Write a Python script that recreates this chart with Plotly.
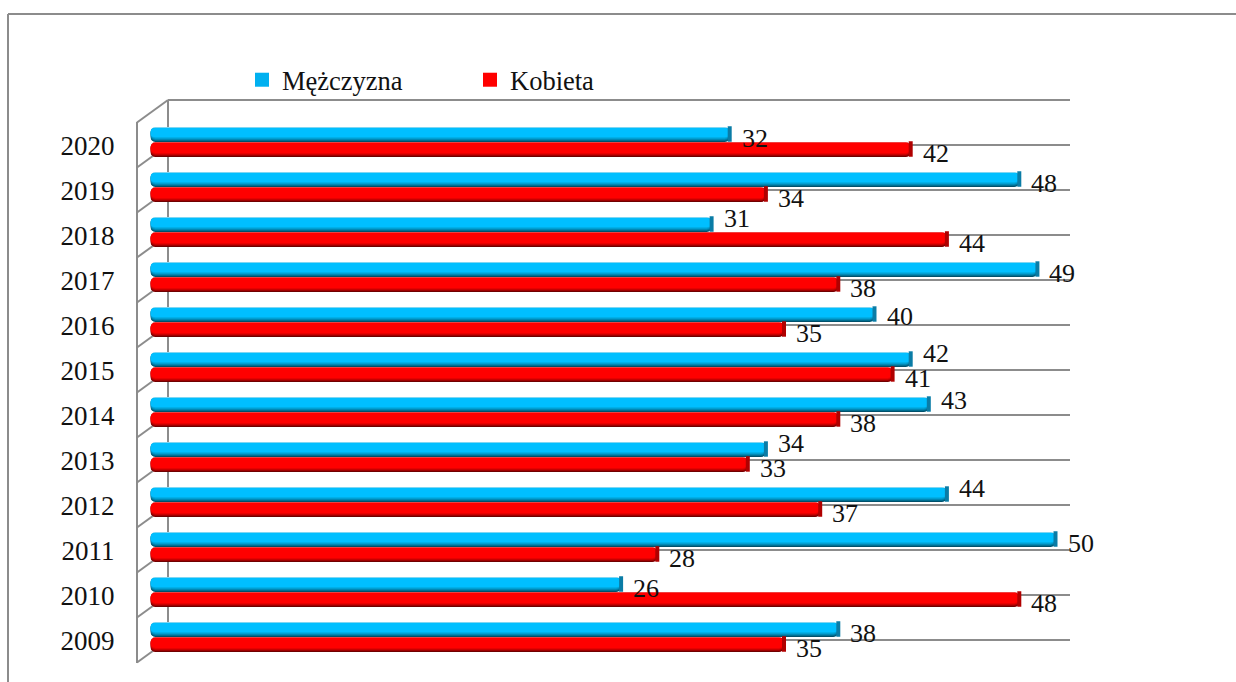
import plotly.graph_objects as go

years = [2009, 2010, 2011, 2012, 2013, 2014, 2015, 2016, 2017, 2018, 2019, 2020]
men = [38, 26, 50, 44, 34, 43, 42, 40, 49, 31, 48, 32]
women = [35, 48, 28, 37, 33, 38, 41, 35, 38, 44, 34, 42]
series_names = ["Mężczyzna", "Kobieta"]

W, H = 1236, 682
FONT = "Liberation Serif"
GREY = "#8c8c8c"
PX_PER_UNIT = 18.1
CAT_PX = 45.0


def px_x(p):
    return p / W


def px_y(p):
    return 1 - p / H


# (top px, bottom px, colour) inside a 15px bar, painted in order
blue_layers = [(0, 15, "#7fd6f2"), (1, 15, "#00506b"), (1, 14, "#006f92"), (1, 13, "#0088b4"),
               (1, 12, "#009fd2"), (1, 11, "#00b0e8"), (1, 10, "#00bfff")]
red_layers = [(0, 15, "#f04040"), (1, 15, "#700000"), (1, 14, "#a00000"), (1, 13, "#c80000"),
              (1, 12, "#e80000"), (1, 11, "#ff0000")]
# Upward nudges (px) of men's labels that the reference lifts off the bars below
men_label_lift = {2018: 10, 2015: 10, 2014: 8, 2013: 10, 2012: 10, 2016: 2}

fig = go.Figure()

# Grid subplot (the back wall)
fig.add_trace(go.Scatter(x=[None], y=[None], xaxis="x", yaxis="y", showlegend=False, hoverinfo="skip"))


def add_series(values, layers, top_units, cap, cap_y):
    for top, bottom, color in layers:
        fig.add_trace(go.Bar(
            x=values, base=[0] * len(values), y=years, orientation="h", xaxis="x2", yaxis="y2",
            width=(bottom - top) / CAT_PX, offset=top_units - bottom / CAT_PX,
            marker=dict(color=color, line_width=0, cornerradius=5),
            showlegend=False, hoverinfo="skip",
        ))
    fig.add_trace(go.Scatter(
        x=values, y=[v + cap_y for v in years], mode="markers", xaxis="x2", yaxis="y2",
        marker=dict(symbol="line-ns", size=11, line=dict(color=cap, width=4)),
        showlegend=False, hoverinfo="skip",
    ))


add_series(men, blue_layers, 1 / 3, "#0a7ca6", 1 / 6 + 0.5 / CAT_PX)
add_series(women, red_layers, 0, "#b00000", -1 / 6 + 0.5 / CAT_PX)

for name, color in zip(series_names, ["#00b0f0", "#ff0000"]):
    fig.add_trace(go.Scatter(
        x=[None], y=[None], mode="markers", name=name, xaxis="x2", yaxis="y2",
        marker=dict(symbol="square", size=14, color=color),
    ))

annotations = []
for vals, off in ((men, 1 / 6), (women, -1 / 6)):
    for yr, v in zip(years, vals):
        lift = men_label_lift.get(yr, 0) if off > 0 else 0
        annotations.append(dict(
            x=v, y=yr + off, xref="x2", yref="y2", text=str(v), showarrow=False,
            xanchor="left", yanchor="middle", xshift=10, yshift=-4 + lift,
            font=dict(family=FONT, size=26, color="#111111"),
        ))

shapes = [
    dict(type="line", xref="paper", yref="paper", x0=px_x(8), x1=px_x(8), y0=px_y(14), y1=0, line=dict(color=GREY, width=2)),
    dict(type="line", xref="paper", yref="paper", x0=px_x(8), x1=1, y0=px_y(14), y1=px_y(14), line=dict(color=GREY, width=2)),
    dict(type="line", xref="paper", yref="paper", x0=px_x(137), x1=px_x(137), y0=px_y(122), y1=px_y(663), line=dict(color=GREY, width=2), layer="below"),
    dict(type="line", xref="paper", yref="paper", x0=px_x(168), x1=px_x(168), y0=px_y(100), y1=px_y(640), line=dict(color=GREY, width=2), layer="below"),
]
for k in range(13):
    gy = 640 - 45 * k
    shapes.append(dict(type="line", xref="paper", yref="paper", x0=px_x(137), x1=px_x(168),
                       y0=px_y(gy + 22.5), y1=px_y(gy), line=dict(color=GREY, width=2), layer="below"))

fig.update_layout(
    width=W, height=H, margin=dict(l=0, r=0, t=0, b=0), autosize=False,
    paper_bgcolor="white", plot_bgcolor="rgba(0,0,0,0)",
    barmode="overlay", hovermode=False,
    font=dict(family=FONT, size=26, color="#111111"),
    xaxis=dict(domain=[px_x(168), px_x(1070)], range=[0, 1], showgrid=False, zeroline=False, showticklabels=False, ticks=""),
    yaxis=dict(domain=[px_y(645), px_y(95)], range=[-5 / 45, 12 + 5 / 45], tick0=0, dtick=1, showgrid=True,
               gridcolor=GREY, gridwidth=2, zeroline=False, showticklabels=False, ticks="", showline=False),
    xaxis2=dict(domain=[px_x(150.5), px_x(1070)], range=[0, (1070 - 150.5) / PX_PER_UNIT], anchor="y2",
                showgrid=False, zeroline=False, showticklabels=False, ticks=""),
    yaxis2=dict(domain=[px_y(659.5), px_y(119.5)], range=[2008.5, 2020.5], anchor="x2", tickmode="array",
                tickvals=years, ticktext=[str(y) for y in years], showgrid=False, zeroline=False, showline=False,
                ticks="", ticklabelstandoff=35, ticklabelshift=4,
                tickfont=dict(family=FONT, size=27, color="#111111")),
    legend=dict(orientation="h", x=px_x(242), y=px_y(80), xanchor="left", yanchor="middle",
                entrywidth=183, entrywidthmode="pixels", bgcolor="rgba(0,0,0,0)",
                font=dict(family=FONT, size=26.5, color="#111111")),
    annotations=annotations, shapes=shapes,
)

fig.write_html("out.html", config={"displayModeBar": False}, post_script="document.body.style.margin='0';")
